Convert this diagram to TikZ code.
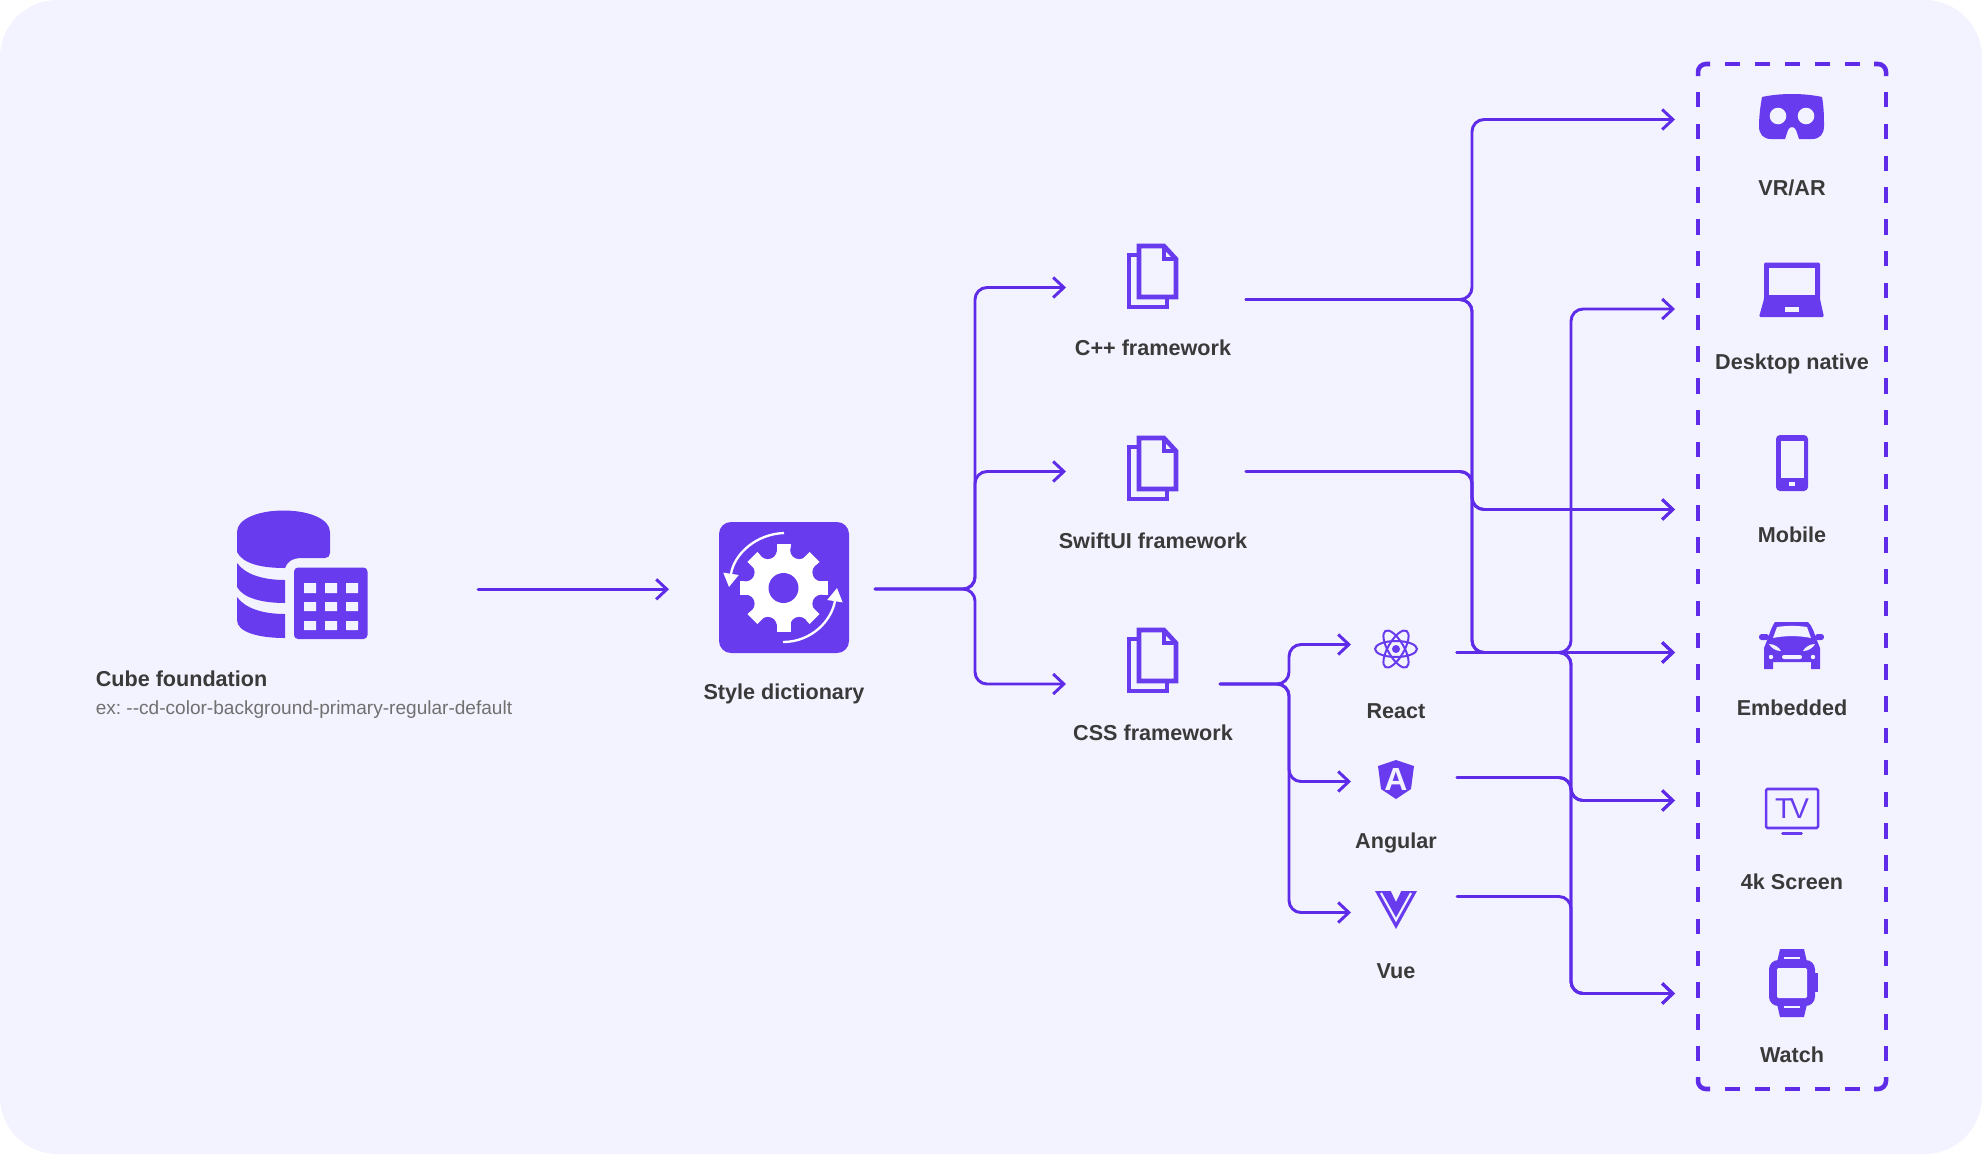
\documentclass[tikz,border=0pt]{standalone}
\usepackage{fontspec}
\setmainfont{Liberation Sans}
\usepackage{tikz}
\usetikzlibrary{arrows.meta}
\usepackage{xcolor}
\frenchspacing
\definecolor{panelbg}{RGB}{243,242,255}
\definecolor{iconpurple}{RGB}{104,60,238}
\definecolor{linepurple}{RGB}{94,44,232}
\definecolor{labelgrey}{RGB}{58,58,58}
\definecolor{notegrey}{RGB}{112,112,112}
\tikzset{
  flow/.style={draw=linepurple,line width=2.2pt,rounded corners=9pt,line cap=round,-{Straight Barb[length=8pt,width=15pt]}},
  label/.style={anchor=base,inner sep=0pt,text=labelgrey,font=\fontsize{16.2}{20}\selectfont\bfseries},
  note/.style={anchor=base west,inner sep=0pt,text=notegrey,font=\fontsize{14.3}{18}\selectfont},
  solid icon/.style={fill=iconpurple,draw=none},
  cutout/.style={fill=panelbg,draw=none},
  boxdash/.style={draw=linepurple,line width=3.4pt},
  fileicon/.pic={
    \draw[iconpurple,line width=3.4pt] (10,11) -- (2,11) -- (2,63) -- (40,63) -- (40,55);
    \draw[iconpurple,line width=3.4pt] (12,2) -- (37,2) -- (49,15) -- (49,53) -- (12,53) -- cycle;
    \draw[iconpurple,line width=3.4pt] (37,2) -- (37,15) -- (49,15);
  }
}

\begin{document}
\begin{tikzpicture}[x=0.75pt,y=0.75pt,yscale=-1,xscale=1]
\useasboundingbox (0,0) rectangle (1982,1154);

%Shape: Panel
\fill[panelbg,rounded corners=43pt] (0,0) rectangle (1982,1154);

%Shape: Cube foundation
\path[solid icon] (237,532) .. controls (237,519) and (258,510.5) .. (283.5,510.5) .. controls (309,510.5) and (330,519) .. (330,532) -- (330,553) .. controls (330,556) and (328,558) .. (325,558) -- (302,558) .. controls (292,558) and (287,562) .. (285,568) .. controls (262,568) and (243,564) .. (237,552) -- cycle;
\path[solid icon] (237,563) .. controls (245,574) and (262,580) .. (285,580) -- (285,603) .. controls (262,603) and (243,598) .. (237,587) -- cycle;
\path[solid icon] (237,597) .. controls (245,608) and (262,614) .. (285,614) -- (285,638) .. controls (258,638) and (237,632) .. (237,620) -- cycle;
\path[solid icon,rounded corners=3pt] (294,567.5) rectangle (367.5,639);
\path[cutout] (304,583) rectangle (316,593) (325,583) rectangle (337,593) (346,583) rectangle (358,593);
\path[cutout] (304,602) rectangle (316,611) (325,602) rectangle (337,611) (346,602) rectangle (358,611);
\path[cutout] (304,621) rectangle (316,630) (325,621) rectangle (337,630) (346,621) rectangle (358,630);

%Shape: Style dictionary
\path[solid icon,rounded corners=9pt] (719,522) rectangle (849,653);
\fill[white] (783.5,588) circle [radius=37];
\foreach \tooth in {0,45,...,315} {
  \fill[white,rotate around={\tooth:(783.5,588)}] (776.5,588) rectangle (790.5,544);
  \fill[iconpurple,rotate around={\tooth+22.5:(783.5,588)}] (783.5,547) circle [radius=9];
}
\fill[iconpurple] (783.5,588) circle [radius=15];
\draw[white,line width=1.75pt,-{Triangle[length=10pt,width=11.25pt]}] (784,533) .. controls (756,534) and (734,554) .. (729,587);
\draw[white,line width=1.75pt,-{Triangle[length=10pt,width=11.25pt]}] (783,642) .. controls (812,642) and (832,620) .. (837,588);

%Shape: Files
\pic[transform shape] (cppfile) at (1127,244) {fileicon};
\pic[transform shape] (swiftfile) at (1127,436) {fileicon};
\pic[transform shape] (cssfile) at (1127,628) {fileicon};

%Shape: React
\draw[iconpurple,line width=1.5pt] (1396,649) ellipse [x radius=21,y radius=8];
\draw[iconpurple,line width=1.5pt,rotate around={60:(1396,649)}] (1396,649) ellipse [x radius=21,y radius=8];
\draw[iconpurple,line width=1.5pt,rotate around={120:(1396,649)}] (1396,649) ellipse [x radius=21,y radius=8];
\fill[iconpurple] (1396,649) circle [radius=4];

%Shape: Angular
\path[solid icon] (1396,760) -- (1414,766) -- (1411,789) -- (1396,799) -- (1381,789) -- (1378,766) -- cycle;
\node (angularmark) at (1396,779) [inner sep=0pt,text=panelbg,font=\fontsize{24}{25}\selectfont\bfseries] {A};

%Shape: Vue
\path[solid icon] (1375,891) -- (1390.7,891) -- (1396,902) -- (1401.3,891) -- (1417,891) -- (1396,929) -- cycle;
\draw[panelbg,line width=1.6pt] (1381,893) -- (1396,920) -- (1411,893);

%Shape: VR
\path[solid icon] (1762,97) .. controls (1780,93) and (1804,93) .. (1822,97) .. controls (1824,108) and (1824,118) .. (1824,126) .. controls (1824,134) and (1820,139) .. (1812,139) -- (1799,139) -- (1796,130) .. controls (1794,126) and (1790,126) .. (1788,130) -- (1785,139) -- (1771,139) .. controls (1763,139) and (1759,134) .. (1759,126) .. controls (1759,118) and (1760,108) .. (1762,97) -- cycle;
\fill[panelbg] (1778,116) circle [radius=8.3];
\fill[panelbg] (1806,116) circle [radius=8.3];

%Shape: Laptop
\path[solid icon,rounded corners=1pt] (1764,262.5) -- (1820,262.5) -- (1820,299) -- (1824,317) -- (1759,317) -- (1764,299) -- cycle;
\path[cutout] (1769,267.5) rectangle (1815,295);
\path[cutout] (1785,307) rectangle (1799,312);

%Shape: Mobile
\path[solid icon,rounded corners=3pt] (1776,435) rectangle (1808,491);
\path[cutout] (1781,441) rectangle (1804,478);
\path[cutout] (1789,482) rectangle (1795,486);

%Shape: Car
\path[solid icon] (1775,622) -- (1808,622) .. controls (1812,626) and (1814,632) .. (1816,638) -- (1820,648) -- (1820,669) -- (1811,669) -- (1811,662) -- (1773,662) -- (1773,669) -- (1764,669) -- (1764,648) -- (1768,638) .. controls (1770,632) and (1772,626) .. (1775,622) -- cycle;
\path[solid icon,rounded corners=2pt] (1759,634) rectangle (1769,640);
\path[solid icon,rounded corners=2pt] (1815,634) rectangle (1824,640);
\path[cutout] (1777,627) .. controls (1787,625.5) and (1797,625.5) .. (1807,627) -- (1811,638) .. controls (1800,635.5) and (1784,635.5) .. (1773,638) -- cycle;
\path[cutout] (1769,644) .. controls (1774,644) and (1779,647) .. (1781,651) .. controls (1776,651) and (1771,648) .. (1769,644) -- cycle;
\path[cutout] (1815,644) .. controls (1810,644) and (1805,647) .. (1803,651) .. controls (1808,651) and (1813,648) .. (1815,644) -- cycle;
\fill[panelbg] (1771,657) circle [radius=2.2];
\fill[panelbg] (1813,657) circle [radius=2.2];
\path[cutout,rounded corners=1.5pt] (1782,655) rectangle (1802,659);

%Shape: TV
\draw[iconpurple,line width=1.9pt,rounded corners=1pt] (1766,789) rectangle (1818,828);
\draw[iconpurple,line width=2.2pt,line cap=round] (1782.5,833.5) -- (1801.5,833.5);
\node (tvmark) at (1792,808.5) [inner sep=0pt,text=iconpurple,font=\fontsize{21.5}{23}\selectfont] {T\kern-2pt V};

%Shape: Watch
\path[solid icon] (1780,949) -- (1804,949) -- (1807,962) -- (1777,962) -- cycle;
\path[solid icon] (1777,1004) -- (1807,1004) -- (1804,1017) -- (1780,1017) -- cycle;
\path[solid icon,rounded corners=7pt] (1769,960) rectangle (1815,1006);
\path[solid icon] (1815,973) rectangle (1818,992);
\path[cutout,rounded corners=1pt] (1777,968) rectangle (1807,998);
\path[cutout] (1784,957) rectangle (1800,959);
\path[cutout] (1784,1006) rectangle (1800,1008);

%Shape: Dashed box
\draw[boxdash,line cap=butt,dash pattern=on 11.25pt off 11.25pt] (1725,64) -- (1860,64);
\draw[boxdash,line cap=butt,dash pattern=on 11.25pt off 11.25pt] (1725,1089) -- (1860,1089);
\draw[boxdash,line cap=butt,dash pattern=on 11.6pt off 12.25pt] (1698,92) -- (1698,1062);
\draw[boxdash,line cap=butt,dash pattern=on 11.6pt off 12.25pt] (1886,92) -- (1886,1062);
\draw[boxdash,rounded corners=6pt] (1698,76) -- (1698,64) -- (1710,64);
\draw[boxdash,rounded corners=6pt] (1874,64) -- (1886,64) -- (1886,76);
\draw[boxdash,rounded corners=6pt] (1698,1077) -- (1698,1089) -- (1710,1089);
\draw[boxdash,rounded corners=6pt] (1874,1089) -- (1886,1089) -- (1886,1077);

%Coordinates: connector ends
\coordinate (cubeout) at (478,589.3);
\coordinate (dictin) at (669,589.3);
\coordinate (dictout) at (875,589);
\coordinate (hubfiles) at (975,400);
\coordinate (cppin) at (1066,287.5);
\coordinate (swiftin) at (1066,471.5);
\coordinate (cssin) at (1066,684);
\coordinate (cppout) at (1246,299.5);
\coordinate (swiftout) at (1246,471.5);
\coordinate (cssout) at (1220,684);
\coordinate (hubcss) at (1289,750);
\coordinate (reactin) at (1351,644.5);
\coordinate (angularin) at (1351,781.5);
\coordinate (vuein) at (1351,912.5);
\coordinate (reactout) at (1457,652.5);
\coordinate (angularout) at (1457,777.5);
\coordinate (vueout) at (1457,896.5);
\coordinate (hubnative) at (1472,400);
\coordinate (hubweb) at (1571,700);
\coordinate (vrin) at (1675,119.5);
\coordinate (desktopin) at (1675,309);
\coordinate (mobilein) at (1675,509.5);
\coordinate (embeddedin) at (1675,652.5);
\coordinate (tvin) at (1675,800.5);
\coordinate (watchin) at (1675,993.5);

%Straight Lines
\draw[flow] (cubeout) -- (dictin);
\draw[flow] (dictout) -| (hubfiles |- cppin) -- (cppin);
\draw[flow] (dictout) -| (hubfiles |- swiftin) -- (swiftin);
\draw[flow] (dictout) -| (hubfiles |- cssin) -- (cssin);
\draw[flow] (cssout) -| (hubcss |- reactin) -- (reactin);
\draw[flow] (cssout) -| (hubcss |- angularin) -- (angularin);
\draw[flow] (cssout) -| (hubcss |- vuein) -- (vuein);
\draw[flow] (cppout) -| (hubnative |- vrin) -- (vrin);
\draw[flow] (cppout) -| (hubnative |- mobilein) -- (mobilein);
\draw[flow] (cppout) -| (hubnative |- embeddedin) -- (embeddedin);
\draw[flow] (swiftout) -| (hubnative |- mobilein) -- (mobilein);
\draw[flow] (swiftout) -| (hubnative |- embeddedin) -- (embeddedin);
\draw[flow] (reactout) -- (embeddedin);
\draw[flow] (reactout) -| (hubweb |- desktopin) -- (desktopin);
\draw[flow] (reactout) -| (hubweb |- tvin) -- (tvin);
\draw[flow] (reactout) -| (hubweb |- watchin) -- (watchin);
\draw[flow] (angularout) -| (hubweb |- tvin) -- (tvin);
\draw[flow] (angularout) -| (hubweb |- watchin) -- (watchin);
\draw[flow] (vueout) -| (hubweb |- watchin) -- (watchin);

% Text Node
\node (cubelabel) at (95.5,686) [label,anchor=base west] {Cube foundation};
% Text Node
\node (cubenote) at (95.5,714.5) [note] {ex: {-}{-}cd-color-background-primary-regular-default};
% Text Node
\node (dictlabel) at (784,699) [label] {Style dictionary};
% Text Node
\node (cpplabel) at (1153,355.5) [label] {C++ framework};
% Text Node
\node (swiftlabel) at (1153,548) [label] {SwiftUI framework};
% Text Node
\node (csslabel) at (1153,740) [label] {CSS framework};
% Text Node
\node (reactlabel) at (1396,718) [label] {React};
% Text Node
\node (angularlabel) at (1396,848) [label] {Angular};
% Text Node
\node (vuelabel) at (1396,978) [label] {Vue};
% Text Node
\node (vrlabel) at (1792,195) [label] {VR/AR};
% Text Node
\node (desktoplabel) at (1792,369.5) [label] {Desktop native};
% Text Node
\node (mobilelabel) at (1792,542.5) [label] {Mobile};
% Text Node
\node (embeddedlabel) at (1792,715.5) [label] {Embedded};
% Text Node
\node (tvlabel) at (1792,889) [label] {4k Screen};
% Text Node
\node (watchlabel) at (1792,1062) [label] {Watch};

\end{tikzpicture}
\end{document}
